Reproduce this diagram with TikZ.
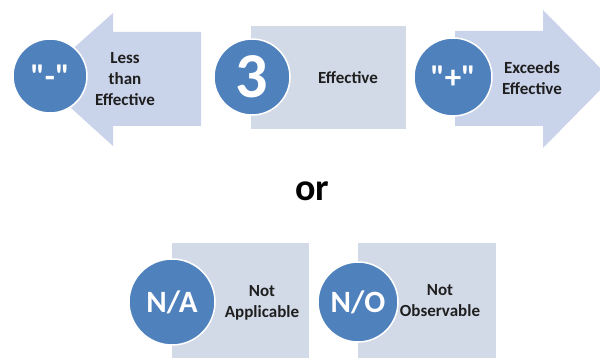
\documentclass[tikz,border=0pt]{standalone}
\usepackage{fontspec}
\setmainfont{Carlito}
\newfontfamily\badgefont{Carlito}[Ligatures=TeXOff]
\usetikzlibrary{positioning}
\definecolor{badgeblue}{HTML}{4F81BD}
\definecolor{arrowfill}{HTML}{C9D3EA}
\definecolor{boxfill}{HTML}{D3DAE7}

\begin{document}
\begin{tikzpicture}[
          x=1pt, y=1pt,
          badge/.style={circle, fill=badgeblue, draw=white, line width=1.5pt,
            text=white, inner sep=0pt, font=\badgefont\bfseries\fontsize{33}{33}\selectfont},
          ratingtext/.style={align=center, text=black!88,
            font=\bfseries\fontsize{17}{21}\selectfont}
        ]
          \useasboundingbox (0,0) rectangle (600,358);
          % background shapes
          \fill[arrowfill] (39,279) -- (113,345) -- (113,326) -- (201,326)
            -- (201,232) -- (113,232) -- (113,212) -- cycle;
          \fill[boxfill] (251,229) rectangle (406,332);
          \fill[arrowfill] (611,279) -- (543,348) -- (543,327) -- (455,327)
            -- (455,232) -- (543,232) -- (543,210) -- cycle;
          \fill[boxfill] (172,-5) rectangle (309,115);
          \fill[boxfill] (358,-5) rectangle (496,115);
          % badges
          \node[badge, minimum size=74pt] (less) at (50,282) {"-"};
          \node[badge, minimum size=76pt, font=\badgefont\bfseries\fontsize{64}{64}\selectfont]
            (meets) at (252,281) {3};
          \node[badge, minimum size=78pt] (exceeds) at (453,281) {"+"};
          \node[badge, minimum size=86pt, font=\badgefont\bfseries\fontsize{31}{31}\selectfont]
            (na) at (172,56) {N/A};
          \node[badge, minimum size=80pt, font=\badgefont\bfseries\fontsize{31}{31}\selectfont]
            (no) at (358,56) {N/O};
          % captions
          \node[ratingtext] (lessnote) at (125,279) {Less\\than\\Effective};
          \node[ratingtext] (meetsnote) at (348,280) {Effective};
          \node[ratingtext] (exceedsnote) at (532,280) {Exceeds\\Effective};
          \node[ratingtext] (nanote) at (262,55) {Not\\Applicable};
          \node[ratingtext] (nonote) at (440,57) {Not\\Observable};
          \node[font=\bfseries\fontsize{38}{38}\selectfont] (or) at (312,167) {or};
        \end{tikzpicture}
\end{document}
